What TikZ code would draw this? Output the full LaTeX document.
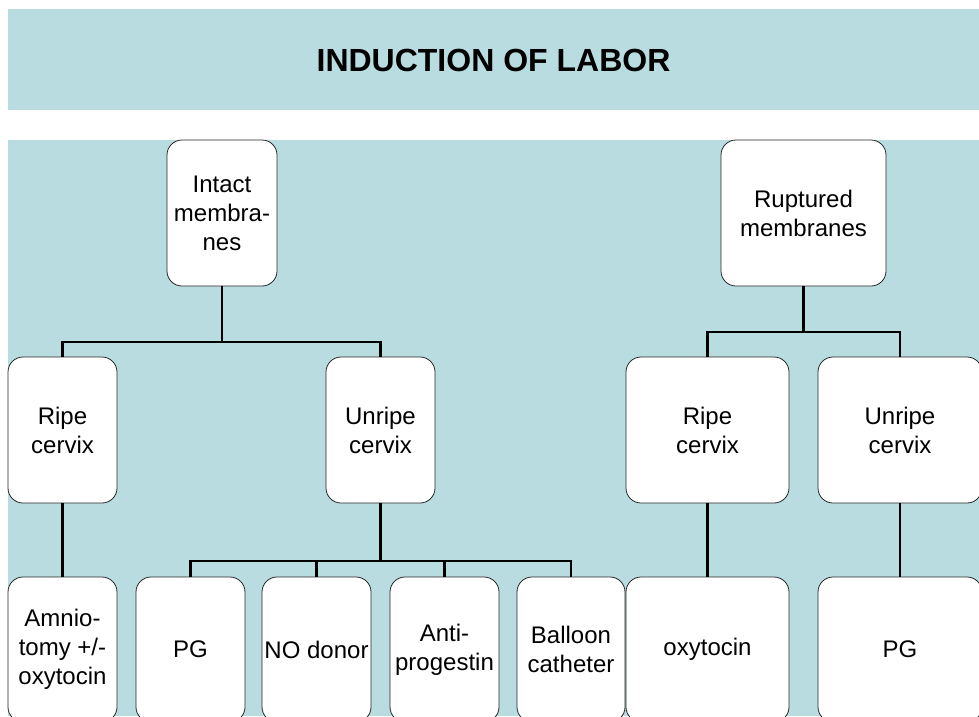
\documentclass[tikz,border=0pt]{standalone}
\usepackage{fontspec}
\setmainfont{Liberation Sans}
\definecolor{bgblue}{RGB}{185,220,224}
\tikzset{
  box/.style={draw=black!85, line width=0.8pt, fill=white, rounded corners=15pt,
    inner sep=0pt, align=center, font=\fontsize{24}{29}\selectfont},
  conn/.style={draw=black, line width=2.8pt},
}
\begin{document}
\begin{tikzpicture}[x=1pt,y=-1pt]
\path[use as bounding box, clip] (0,0) rectangle (979,716);
\fill[white] (0,0) rectangle (979,716);
\fill[bgblue] (8,9) rectangle (979,110);
\fill[bgblue] (8,140) rectangle (979,716);
\node[font=\fontsize{32}{38}\selectfont\bfseries] (title) at (493.5,60) {INDUCTION OF LABOR};

% top row
\node[box, minimum width=110pt, minimum height=146pt] (intact) at (222,213) {Intact\\membra-\\nes};
\node[box, minimum width=165pt, minimum height=146pt] (rupt) at (803.5,213) {Ruptured\\membranes};
% middle row
\node[box, minimum width=109pt, minimum height=146pt] (ripeL) at (62.5,430) {Ripe\\cervix};
\node[box, minimum width=109pt, minimum height=146pt] (unripeL) at (380.5,430) {Unripe\\cervix};
\node[box, minimum width=163pt, minimum height=146pt] (ripeR) at (707.5,430) {Ripe\\cervix};
\node[box, minimum width=164pt, minimum height=146pt] (unripeR) at (900,430) {Unripe\\cervix};
% bottom row
\node[box, minimum width=109pt, minimum height=145pt] (amnio) at (62.5,649.5) {Amnio-\\tomy +/-\\oxytocin};
\node[box, minimum width=109pt, minimum height=145pt] (pgL) at (190.5,649.5) {PG};
\node[box, minimum width=109pt, minimum height=145pt] (nod) at (316.5,649.5) {NO donor};
\node[box, minimum width=109pt, minimum height=145pt] (anti) at (444.5,649.5) {Anti-\\progestin};
\node[box, minimum width=108pt, minimum height=145pt] (ball) at (571,649.5) {Balloon\\catheter};
\node[box, minimum width=163pt, minimum height=145pt] (oxy) at (707.5,649.5) {oxytocin};
\node[box, minimum width=164pt, minimum height=145pt] (pgR) at (900,649.5) {PG};

% connectors
\coordinate (j1) at (222,342);
\draw[conn] (intact.south) -- (j1);
\draw[conn] (ripeL.north) |- (j1) -| (unripeL.north);

\coordinate (j2) at (803.5,332);
\draw[conn] (rupt.south) -- (j2);
\draw[conn] (ripeR.north) |- (j2) -| (unripeR.north);

\draw[conn] (ripeL.south) -- (amnio.north);

\coordinate (j3) at (380.5,561);
\draw[conn] (unripeL.south) -- (j3);
\draw[conn] (pgL.north) |- (j3) -| (ball.north);
\draw[conn] (nod.north) -- (nod.north |- j3);
\draw[conn] (anti.north) -- (anti.north |- j3);

\draw[conn] (ripeR.south) -- (oxy.north);
\draw[conn] (unripeR.south) -- (pgR.north);
\end{tikzpicture}
\end{document}
